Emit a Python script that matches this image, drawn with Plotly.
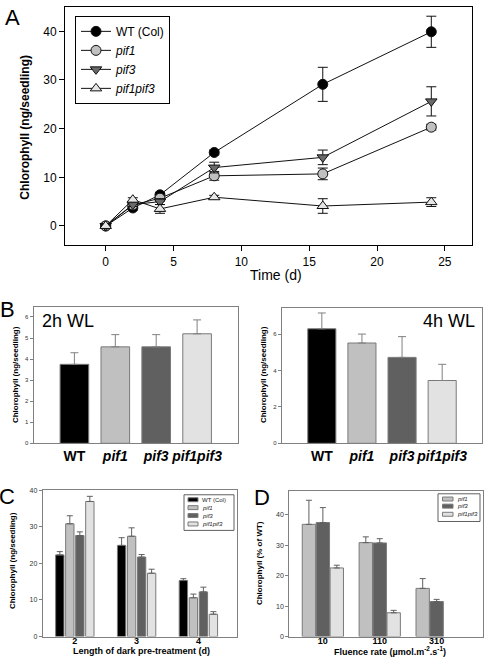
import plotly.graph_objects as go

# ---------------- data ----------------
# Panel A: time course
TIME_D = [0, 2, 4, 8, 16, 24]
A_WT = [0, 3.7, 6.4, 15.1, 29.1, 39.9]
A_WT_ERR = [0.3, 0.4, 0.5, 0.5, 3.5, 3.2]
A_PIF1 = [0, 4.3, 5.7, 10.3, 10.7, 20.3]
A_PIF1_ERR = [0.3, 0.4, 0.6, 0.9, 1.2, 0.6]
A_PIF3 = [0, 4.4, 5.0, 12.0, 14.1, 25.6]
A_PIF3_ERR = [0.3, 0.4, 0.6, 1.1, 1.5, 3.0]
A_PIF1PIF3 = [0, 5.4, 3.5, 5.9, 4.1, 4.9]
A_PIF1PIF3_ERR = [0.3, 0.4, 0.9, 0.4, 1.5, 0.9]

# Panel B: 2h / 4h WL
GENOTYPES = ["WT", "pif1", "pif3", "pif1pif3"]
GENO_LABELS = ["WT", "<i>pif1</i>", "<i>pif3</i>", "<i>pif1pif3</i>"]
B_2H = [3.75, 4.58, 4.58, 5.20]
B_2H_ERR = [0.55, 0.58, 0.58, 0.66]
B_4H = [6.29, 5.51, 4.72, 3.45]
B_4H_ERR = [0.87, 0.49, 1.14, 0.89]

# Panel C: dark pre-treatment
DARK_DAYS = ["2", "3", "4"]
C_VALUES = {
    "WT": [22.3, 24.9, 15.3],
    "pif1": [30.8, 27.4, 10.6],
    "pif3": [27.6, 21.7, 12.2],
    "pif1pif3": [36.9, 17.3, 6.1],
}
C_ERR = {
    "WT": [0.9, 2.1, 0.5],
    "pif1": [2.2, 2.3, 1.0],
    "pif3": [1.0, 0.7, 1.3],
    "pif1pif3": [1.4, 1.1, 0.7],
}
C_LEGEND = ["WT (Col)", "<i>pif1</i>", "<i>pif3</i>", "<i>pif1pif3</i>"]

# Panel D: fluence rate
FLUENCE = ["10", "110", "310"]
D_VALUES = {
    "pif1": [36.8, 30.8, 15.8],
    "pif3": [37.4, 30.7, 11.5],
    "pif1pif3": [22.5, 7.8, None],
}
D_ERR = {
    "pif1": [7.9, 1.9, 3.2],
    "pif3": [4.9, 1.4, 0.7],
    "pif1pif3": [0.9, 0.8, 0],
}
D_LEGEND = ["<i>pif1</i>", "<i>pif3</i>", "<i>pif1pif3</i>"]

# ---------------- styles ----------------
W, H = 488, 664
FONT = "Arial, Liberation Sans, sans-serif"
COLORS = {"WT": "#000000", "pif1": "#c0c0c0", "pif3": "#606060", "pif1pif3": "#e2e2e2"}
BAR_LINE = "#7a7a7a"
FRAME = "#808080"


def px(x):
    return x / W


def py(y):
    return 1 - y / H


fig = go.Figure()

# ---------------- Panel A ----------------
a_series = [
    ("WT (Col)", A_WT, A_WT_ERR, "circle", COLORS["WT"]),
    ("<i>pif1</i>", A_PIF1, A_PIF1_ERR, "circle", COLORS["pif1"]),
    ("<i>pif3</i>", A_PIF3, A_PIF3_ERR, "triangle-down", "#6a6a6a"),
    ("<i>pif1pif3</i>", A_PIF1PIF3, A_PIF1PIF3_ERR, "triangle-up", "#e6e6e6"),
]
for name, ys, errs, sym, col in a_series:
    fig.add_trace(go.Scatter(
        x=TIME_D, y=ys, name=name, mode="lines+markers",
        line=dict(color="#111111", width=1),
        marker=dict(symbol=sym, size=10, color=col, line=dict(color="#111111", width=1)),
        error_y=dict(type="data", array=errs, color="#111111", thickness=1, width=5),
        xaxis="x", yaxis="y", legend="legend",
    ))

# ---------------- Panel B ----------------
b_colors = [COLORS[g] for g in GENOTYPES]
for vals, errs, ax in [(B_2H, B_2H_ERR, "2"), (B_4H, B_4H_ERR, "3")]:
    fig.add_trace(go.Bar(
        x=GENOTYPES, y=vals, width=0.7, showlegend=False,
        marker=dict(color=b_colors, line=dict(color=BAR_LINE, width=1)),
        error_y=dict(type="data", symmetric=False, array=errs, arrayminus=[0] * len(errs),
                     color="#808080", thickness=1, width=4),
        xaxis="x" + ax, yaxis="y" + ax,
    ))

# ---------------- Panel C ----------------
c_slot, c_bw = 0.162, 0.135
for i, g in enumerate(GENOTYPES):
    fig.add_trace(go.Bar(
        x=DARK_DAYS, y=C_VALUES[g], width=c_bw,
        offset=-2 * c_slot + i * c_slot + (c_slot - c_bw) / 2,
        showlegend=False,
        marker=dict(color=COLORS[g], line=dict(color=BAR_LINE, width=1)),
        error_y=dict(type="data", symmetric=False, array=C_ERR[g], arrayminus=[0] * 3,
                     color="#606060", thickness=1, width=3),
        xaxis="x4", yaxis="y4",
    ))

# ---------------- Panel D ----------------
d_slot, d_bw = 0.245, 0.235
for i, g in enumerate(["pif1", "pif3", "pif1pif3"]):
    fig.add_trace(go.Bar(
        x=FLUENCE, y=D_VALUES[g], width=d_bw,
        offset=-1.5 * d_slot + i * d_slot + (d_slot - d_bw) / 2,
        showlegend=False,
        marker=dict(color=COLORS[g], line=dict(color=BAR_LINE, width=1)),
        error_y=dict(type="data", symmetric=False, array=D_ERR[g], arrayminus=[0] * 3,
                     color="#606060", thickness=1, width=3),
        xaxis="x5", yaxis="y5",
    ))

# ---------------- axes ----------------
small_tick = dict(family=FONT, size=7, color="#333333")
layout = dict(
    width=W, height=H, margin=dict(l=0, r=0, t=0, b=0),
    paper_bgcolor="white", plot_bgcolor="white",
    font=dict(family=FONT, color="black"),
    barmode="overlay",
    xaxis=dict(domain=[px(65), px(472)], range=[-3, 27], anchor="y",
               tickvals=[0, 5, 10, 15, 20, 25], ticks="outside", ticklen=5, tickcolor="black",
               showline=True, mirror=True, linecolor="black", linewidth=1, tickangle=0,
               showgrid=False, zeroline=False, tickfont=dict(size=12)),
    yaxis=dict(domain=[py(244), py(3)], range=[-4, 45], anchor="x",
               tickvals=[0, 10, 20, 30, 40], ticks="outside", ticklen=5, tickcolor="black",
               showline=True, mirror=True, linecolor="black", linewidth=1,
               showgrid=False, zeroline=False, tickfont=dict(size=12)),
    # B left
    xaxis2=dict(domain=[px(33.5), px(238)], type="category", range=[-1, 4], anchor="y2",
                tickmode="array", tickvals=GENOTYPES, ticktext=GENO_LABELS, tickangle=0,
                ticks="", showline=True, mirror=True, linecolor=FRAME, showgrid=False,
                tickfont=dict(size=14, weight="bold")),
    yaxis2=dict(domain=[py(444), py(306.7)], range=[0, 6.45], anchor="x2", dtick=1,
                ticks="outside", ticklen=3, tickcolor=FRAME,
                showline=True, mirror=True, linecolor=FRAME, showgrid=False, zeroline=False,
                tickfont=dict(family=FONT, size=6, color="#333333")),
    # B right
    xaxis3=dict(domain=[px(281.7), px(482.3)], type="category", range=[-1, 4], anchor="y3",
                tickmode="array", tickvals=GENOTYPES, ticktext=GENO_LABELS, tickangle=0,
                ticks="", showline=True, mirror=True, linecolor=FRAME, showgrid=False,
                tickfont=dict(size=14, weight="bold")),
    yaxis3=dict(domain=[py(444), py(307.3)], range=[0, 7.43], anchor="x3", dtick=2,
                ticks="outside", ticklen=3, tickcolor=FRAME,
                showline=True, mirror=True, linecolor=FRAME, showgrid=False, zeroline=False,
                tickfont=dict(family=FONT, size=6, color="#333333")),
    # C
    xaxis4=dict(domain=[px(42.7), px(236.7)], type="category", range=[-0.52, 2.62], anchor="y4",
                ticks="", showline=True, mirror=True, linecolor=FRAME, showgrid=False, tickangle=0,
                ticklabelstandoff=-4, tickfont=dict(size=9, weight="bold")),
    yaxis4=dict(domain=[py(639.3), py(491.3)], range=[0, 40], anchor="x4", dtick=10,
                ticks="outside", ticklen=3, tickcolor=FRAME,
                showline=True, mirror=True, linecolor=FRAME, showgrid=False, zeroline=False,
                tickfont=small_tick),
    # D
    xaxis5=dict(domain=[px(289.3), px(482.7)], type="category", range=[-0.59, 2.81], anchor="y5",
                ticks="", showline=True, mirror=True, linecolor=FRAME, showgrid=False, tickangle=0,
                ticklabelstandoff=-4, tickfont=dict(size=9, weight="bold")),
    yaxis5=dict(domain=[py(639.3), py(492.3)], range=[0, 47.7], anchor="x5", tickvals=[0, 10, 20, 30, 40],
                ticks="outside", ticklen=3, tickcolor=FRAME,
                showline=True, mirror=True, linecolor=FRAME, showgrid=False, zeroline=False,
                tickfont=small_tick),
    legend=dict(x=px(75), y=py(12), xanchor="left", yanchor="top",
                bordercolor="black", borderwidth=1, bgcolor="white",
                font=dict(size=12, family=FONT), tracegroupgap=0),
)
fig.update_layout(**layout)

# ---------------- annotations ----------------
ann = []


def text(x, y, s, size, bold=False, angle=0, xanchor="center", color="black"):
    ann.append(dict(x=px(x), y=py(y), xref="paper", yref="paper", text=s, showarrow=False,
                    textangle=angle, xanchor=xanchor, yanchor="middle",
                    font=dict(family=FONT, size=size, color=color, weight="bold" if bold else "normal")))


# panel letters
text(12, 14, "A", 22)
text(7, 309, "B", 22)
text(7, 498, "C", 22)
text(262, 499, "D", 22)
# axis titles
text(25, 125, "Chlorophyll (ng/seedling)", 12, bold=True, angle=-90)
text(276, 274, "Time (d)", 14)
text(15, 375, "Chlorophyll (ng/seedling)", 8, bold=True, angle=-90)
text(263, 375, "Chlorophyll (ng/seedling)", 8, bold=True, angle=-90)
text(12, 563, "Chlorophyll (ng/seedling)", 8, bold=True, angle=-90)
text(141, 654, "Length of dark pre-treatment (d)", 9, bold=True)
text(259, 565, "Chlorophyll (% of WT)", 8, bold=True, angle=-90)
text(390, 654, "Fluence rate (µmol.m<sup>-2</sup>.s<sup>-1</sup>)", 9, bold=True)
# panel B titles
text(40, 320, "2h WL", 18, xanchor="left")
text(477, 320, "4h WL", 18, xanchor="right")

# manual legends for C and D
shapes = []


def legend_box(x0, y0, x1, y1, entries, colors, sw_x0, sw_x1, txt_x, ys):
    shapes.append(dict(type="rect", xref="paper", yref="paper", x0=px(x0), x1=px(x1),
                       y0=py(y1), y1=py(y0), line=dict(color="#606060", width=1),
                       fillcolor="white", layer="above"))
    for lab, col, yc in zip(entries, colors, ys):
        shapes.append(dict(type="rect", xref="paper", yref="paper", x0=px(sw_x0), x1=px(sw_x1),
                           y0=py(yc + 2), y1=py(yc - 2), line=dict(color=BAR_LINE, width=1),
                           fillcolor=col, layer="above"))
        text(txt_x, yc, lab, 6, xanchor="left", color="#222222")


legend_box(184, 496, 234, 532, C_LEGEND, [COLORS[g] for g in GENOTYPES],
           188, 198, 200, [501, 509, 517, 525.5])
legend_box(438, 495, 480, 523, D_LEGEND, [COLORS[g] for g in ["pif1", "pif3", "pif1pif3"]],
           442.5, 453, 455, [500.3, 507.5, 515.7])

fig.update_layout(annotations=ann, shapes=shapes)
fig.write_html("out.html", config={"displayModeBar": False},
               post_script="document.body.style.margin='0';document.body.style.overflow='hidden';")
